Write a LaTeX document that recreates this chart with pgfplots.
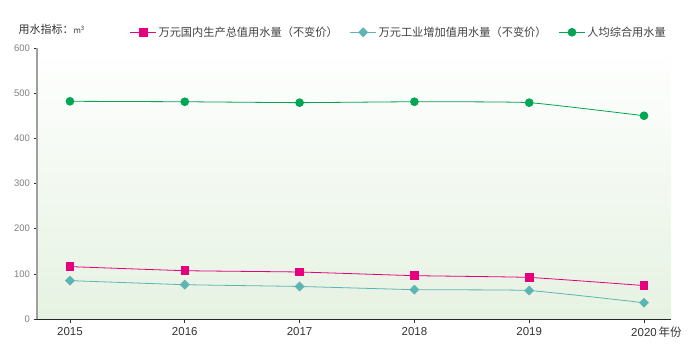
\documentclass[border=0pt]{standalone}
\usepackage{pgfplots}
\pgfplotsset{compat=1.18}
\usepackage{fontspec}
\setmainfont{Liberation Sans}
\newfontfamily\cjk{Noto Sans CJK SC}
\definecolor{cMag}{HTML}{E6007E}
\definecolor{cTeal}{HTML}{5DB5B3}
\definecolor{cGreen}{HTML}{00A651}
\definecolor{bgGreen}{HTML}{E6F2E2}
\begin{document}
\begin{tikzpicture}
\begin{axis}[
  name=ax,
  clip mode=individual,
  scale only axis, width=634pt, height=271pt,
  xmin=2014.713, xmax=2020.235, ymin=0, ymax=600,
  axis x line*=bottom, axis y line*=left,
  x axis line style={draw=black!85, line width=0.8pt},
  y axis line style={draw=gray!75, line width=1.6pt},
  xtick={2015,2016,2017,2018,2019,2020},
  xticklabels={2015,2016,2017,2018,2019,{2020\rlap{\,\cjk 年份}}},
  ytick={0,100,200,300,400,500,600},
  tick align=outside,
  major tick length=3.5pt,
  tick style={draw=black!80, line width=0.6pt},
  /pgf/number format/assume math mode=true,
  /pgf/number format/1000 sep={},
  x tick label style={font=\fontsize{11.5}{12}\selectfont, text=black!80, yshift=-1pt},
  y tick label style={font=\fontsize{9.5}{10}\selectfont, text=gray},
  axis background/.style={shade, top color=white, bottom color=bgGreen},
  legend columns=3,
  legend style={at={(1,1)}, anchor=south east, yshift=6pt, draw=none, fill=none,
    font=\cjk\fontsize{11.2}{12}\selectfont, text=black!75,
    /tikz/every even column/.append style={column sep=10pt}},
  legend image code/.code={\draw[mark repeat=2,mark phase=2] plot coordinates {(0pt,0pt) (13pt,0pt) (26pt,0pt)};},
]
\addplot[cMag, line width=0.8pt, smooth, tension=0.25, mark=square*, mark size=3.8pt, mark options={solid, fill=cMag, draw=cMag}]
  coordinates {(2015,116) (2016,107) (2017,104) (2018,96) (2019,92) (2020,74)};
\addlegendentry{万元国内生产总值用水量（不变价）}
\addplot[cTeal, line width=0.8pt, smooth, tension=0.25, mark=square*, mark size=3.1pt, mark options={solid, rotate=45, fill=cTeal, draw=cTeal}]
  coordinates {(2015,85) (2016,76) (2017,72) (2018,65) (2019,63) (2020,36)};
\addlegendentry{万元工业增加值用水量（不变价）}
\addplot[cGreen, line width=0.8pt, smooth, tension=0.25, mark=*, mark size=3.9pt, mark options={solid, fill=cGreen, draw=cGreen}]
  coordinates {(2015,482) (2016,481) (2017,479) (2018,481) (2019,479) (2020,450)};
\addlegendentry{人均综合用水量}
\node[anchor=base west, font=\cjk\fontsize{11}{12}\selectfont, text=black!80, xshift=-22pt, yshift=15pt] at (rel axis cs:0,1) {用水指标：{\fontsize{8}{9}\selectfont m\textsuperscript{3}}};
\end{axis}
\pgfresetboundingbox
\path[use as bounding box] ([shift={(-37pt,-34pt)}]ax.south west) rectangle ([shift={(21pt,48pt)}]ax.north east);
\end{tikzpicture}
\end{document}
